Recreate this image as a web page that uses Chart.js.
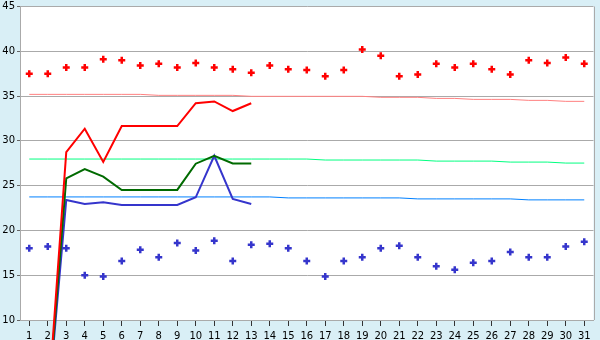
<!DOCTYPE html>
<html>
<head>
<meta charset="utf-8">
<script src="https://cdn.jsdelivr.net/npm/chart.js@4/dist/chart.umd.min.js"></script>
<style>
    html, body { margin: 0; padding: 0; background: #d9eff6; }
    #wrap { width: 600px; height: 340px; }
    canvas { background: #d9eff6; }
</style>
</head>
<body>
<div id="wrap"><canvas id="chart" width="600" height="340"></canvas></div>
<script>
// Days of the month
const days = ['1', '2', '3', '4', '5', '6', '7', '8', '9', '10', '11', '12', '13', '14', '15', '16',
    '17', '18', '19', '20', '21', '22', '23', '24', '25', '26', '27', '28', '29', '30', '31'];

// Daily dots
const redDots = [37.5, 37.5, 38.2, 38.2, 39.1, 39.0, 38.4, 38.6, 38.2, 38.7, 38.2, 38.0, 37.6, 38.4, 38.0, 37.9,
    37.2, 37.9, 40.2, 39.5, 37.2, 37.4, 38.6, 38.2, 38.6, 38.0, 37.4, 39.0, 38.7, 39.3, 38.6];
const blueDots = [18.0, 18.2, 18.0, 15.0, 14.85, 16.6, 17.85, 17.0, 18.6, 17.75, 18.85, 16.6, 18.4, 18.5, 18.0, 16.6,
    14.85, 16.6, 17.0, 18.0, 18.3, 17.0, 16.0, 15.6, 16.4, 16.6, 17.6, 17.0, 17.0, 18.2, 18.75];

// Current month lines
const redLine = [null, 0, 28.75, 31.36, 27.65, 31.65, 31.65, 31.65, 31.65, 34.2, 34.4, 33.33, 34.2];
const greenLine = [null, 0, 25.8, 26.85, 26.0, 24.5, 24.5, 24.5, 24.52, 27.45, 28.33, 27.48, 27.48];
const blueLine = [null, 0, 23.4, 22.96, 23.15, 22.85, 22.85, 22.85, 22.85, 23.7, 28.33, 23.52, 22.96];

// Long-term averages
const redAvg = [35.19, 35.19, 35.19, 35.19, 35.19, 35.19, 35.19, 35.08, 35.08, 35.08, 35.08, 35.08, 34.97, 34.97,
    34.97, 34.97, 34.97, 34.97, 34.97, 34.86, 34.86, 34.86, 34.74, 34.74, 34.63, 34.63, 34.63, 34.52, 34.52,
    34.41, 34.41];
const greenAvg = [27.97, 27.97, 27.97, 27.97, 27.97, 27.97, 27.97, 27.97, 27.97, 27.97, 27.97, 27.97, 27.97, 27.97,
    27.97, 27.97, 27.86, 27.86, 27.86, 27.86, 27.86, 27.86, 27.74, 27.74, 27.74, 27.74, 27.63, 27.63, 27.63,
    27.52, 27.52];
const blueAvg = [23.74, 23.74, 23.74, 23.74, 23.74, 23.74, 23.74, 23.74, 23.74, 23.74, 23.74, 23.74, 23.74, 23.74,
    23.63, 23.63, 23.63, 23.63, 23.63, 23.63, 23.63, 23.52, 23.52, 23.52, 23.52, 23.52, 23.52, 23.41, 23.41,
    23.41, 23.41];

const yTicks = [10, 15, 20, 25, 30, 35, 40, 45];

// White plot area + right border
const plotArea = {
    id: 'plotArea',
    beforeDraw(chart) {
        const a = chart.chartArea;
        const ctx = chart.ctx;
        ctx.save();
        ctx.fillStyle = '#ffffff';
        ctx.fillRect(a.left, a.top, a.right - a.left, a.bottom - a.top);
        ctx.restore();
    },
    afterDraw(chart) {
        const a = chart.chartArea;
        const ctx = chart.ctx;
        ctx.save();
        ctx.strokeStyle = '#aaaaaa';
        ctx.lineWidth = 1;
        ctx.beginPath();
        ctx.moveTo(Math.round(a.right) + 0.5, a.top);
        ctx.lineTo(Math.round(a.right) + 0.5, a.bottom);
        ctx.stroke();
        ctx.restore();
    }
};

const lineDs = (data, color) => ({
    data: data,
    borderColor: color,
    borderWidth: 2,
    pointRadius: 0,
    tension: 0,
    clip: false,
    spanGaps: false
});

const avgDs = (data, color) => ({
    data: data,
    borderColor: color,
    borderWidth: 1,
    pointRadius: 0,
    tension: 0
});

const dotDs = (data, color) => ({
    data: data,
    showLine: false,
    pointStyle: 'cross',
    pointRadius: 3.5,
    pointBorderWidth: 2.5,
    pointBorderColor: color,
    pointBackgroundColor: color,
    borderColor: color
});

new Chart(document.getElementById('chart'), {
    type: 'line',
    data: {
        labels: days,
        datasets: [
            lineDs(redLine, '#ff0000'),
            lineDs(greenLine, '#006a00'),
            lineDs(blueLine, '#3535cc'),
            dotDs(redDots, '#ff0000'),
            dotDs(blueDots, '#3535cc'),
            avgDs(redAvg, '#ff8080'),
            avgDs(greenAvg, '#00ff80'),
            avgDs(blueAvg, '#0080ff')
        ]
    },
    options: {
        responsive: false,
        animation: false,
        layout: {
            padding: { top: 5, right: 5, left: 0, bottom: 0 }
        },
        plugins: {
            legend: { display: false },
            tooltip: { enabled: false }
        },
        scales: {
            x: {
                offset: true,
                afterFit: (scale) => { scale.height = 20; },
                grid: {
                    drawOnChartArea: false,
                    drawTicks: true,
                    tickLength: 6,
                    tickColor: '#333333',
                    offset: false
                },
                border: { color: '#aaaaaa' },
                ticks: {
                    autoSkip: false,
                    maxRotation: 0,
                    padding: 4,
                    color: '#000000',
                    font: { family: 'DejaVu Sans', size: 10 }
                }
            },
            y: {
                min: yTicks[0],
                max: yTicks[yTicks.length - 1],
                afterFit: (scale) => {
                    scale.width = 20;
                    scale.paddingTop = 0;
                    scale.paddingBottom = 0;
                },
                afterBuildTicks: (scale) => {
                    scale.ticks = yTicks.map((v) => ({ value: v }));
                },
                grid: {
                    color: '#aaaaaa',
                    tickLength: 3,
                    tickColor: '#666666'
                },
                border: { color: '#aaaaaa' },
                ticks: {
                    padding: 2,
                    color: '#000000',
                    font: { family: 'DejaVu Sans', size: 10 }
                }
            }
        }
    },
    plugins: [plotArea]
});
</script>
</body>
</html>
